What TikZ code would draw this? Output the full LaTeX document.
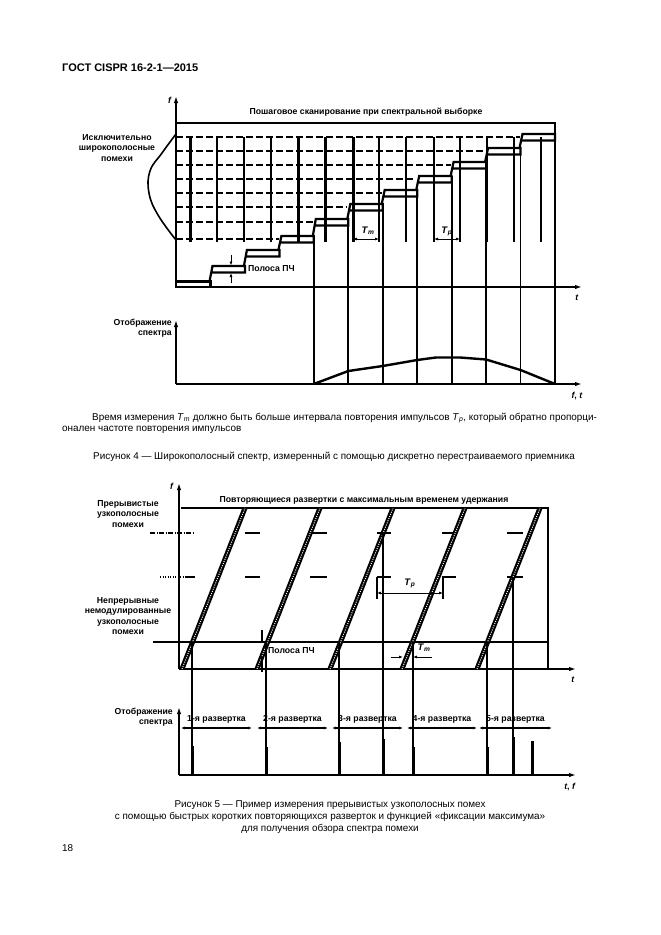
\documentclass[tikz,border=0pt]{standalone}
\usepackage{fontspec}
\setmainfont{Liberation Sans}
\usetikzlibrary{arrows.meta}
\newcommand\figfont{\fontsize{8.7}{10.4}\selectfont\bfseries}
\newcommand\txtfont{\fontsize{9.9}{11.5}\selectfont}
\newcommand\Tm{\textit{T}\textsubscript{\textit{m}}}
\newcommand\Tp{\textit{T}\textsubscript{\textit{p}}}
\begin{document}
\begin{tikzpicture}[x=1pt,y=-1pt,line cap=butt,
  axis/.style={line width=1.7pt,-{Latex[length=7pt,width=4.5pt]}},
  frame/.style={line width=2pt},
  stepbox/.style={line width=2.2pt,line join=miter},
  dline/.style={line width=#1,dash pattern=on 7pt off 3pt},
  bar/.style={line width=#1},
  vline/.style={line width=1.2pt},
  dim/.style={line width=1pt,{Latex[length=4pt,width=3pt]}-{Latex[length=4pt,width=3pt]}},
  lbl/.style={font=\figfont,inner sep=0pt},
  txt/.style={font=\txtfont,inner sep=0pt},
  sweep/.style={line width=5pt},
  sweepdot/.style={line width=1pt,white,dash pattern=on 1pt off 1.3pt},
]
\useasboundingbox[fill=white] (0,0) rectangle (661,935);

% header
\node[anchor=west,inner sep=0pt,font=\fontsize{11}{12}\selectfont\bfseries] (hdr) at (62,68) {ГОСТ CISPR 16-2-1—2015};

%%%%%%%%%%%%%%%% FIGURE 4 (top) %%%%%%%%%%%%%%%%
% pulse bars
\foreach \x/\w in {190/3pt,217/2.2pt,244/2.2pt,271/2.2pt,298/3pt,325/3pt,353/3pt,379/1.4pt,406/2.2pt,434/2.2pt,460/2.2pt,487/2.2pt,514/1.4pt,541/1.4pt}
  \draw[bar=\w] (\x,137) -- (\x,242);
% dashed levels
\foreach \y/\xe/\w in {239/279/2pt,222/313/2pt,207/347/1.3pt,193/382/1.3pt,179/416/1.3pt,165/451/1.3pt,151/485/1.3pt,137/520/2pt}
  \draw[dline=\w] (176,\y) -- (\xe,\y);
% wavy outline of broadband interference
\draw[line width=1.6pt] plot[smooth,tension=0.7] coordinates {(176,134) (162,153) (150,171) (149,193) (158,215) (176,240)};
\node[lbl,align=center] (wb) at (117,148) {Исключительно\\широкополосные\\помехи};

% frame and axes
\draw[frame] (176,123) -- (555,123) -- (555,384);
\draw[axis] (176,287) -- (176,96);
\node[lbl] (f1) at (170,100) {\textit{f}};
\draw[axis] (176,287) -- (582,287);
\node[lbl] (t1) at (577,298) {\textit{t}};
\node[lbl] (title1) at (366,112) {Пошаговое сканирование при спектральной выборке};

% staircase of IF band boxes
\draw[stepbox] (176,281.5) rectangle (210.5,287);
\foreach \xa/\xb/\tp/\tc in {210.5/244.9/281.5/266,244.9/279.4/266/250,279.4/313.8/250/236,313.8/348.3/236/219,348.3/382.7/219/204,382.7/417.2/204/190,417.2/451.6/190/176,451.6/486.1/176/162,486.1/520.5/162/148,520.5/555/148/134}
  \draw[stepbox] (\xa-1,\tp) -- (\xa+2,\tc) -- (\xb,\tc) -- (\xb,\tc+6.5) -- (\xa+0.9,\tc+6.5);
% sample verticals
\foreach \x/\y in {313.8/236,348.3/219,382.7/204,417.2/190,451.6/176,486.1/162,520.5/148}
  \draw[line width=1.9pt] (\x,\y) -- (\x,384);

% IF band marker
\draw[line width=1pt,-{Latex[length=4pt,width=3pt]}] (231,255) -- (231,265.5);
\draw[line width=1pt,-{Latex[length=4pt,width=3pt]}] (231,283) -- (231,273);
\node[lbl,anchor=west] (ifb1) at (248,269) {Полоса ПЧ};

% Tm, Tp
\draw[dim] (353,239) -- (379,239);
\node[lbl,font=\fontsize{9.5}{10}\selectfont\bfseries] (tm1) at (368,231) {\Tm};
\draw[dim] (434,239) -- (460,239);
\node[lbl,font=\fontsize{9.5}{10}\selectfont\bfseries] (tp1) at (447,231) {\Tp};

% lower plot of figure 4
\draw[axis] (176,384) -- (176,320);
\draw[axis] (176,384) -- (582,384);
\node[lbl,align=right,anchor=east] (disp1) at (172,328) {Отображение\\спектра};
\node[lbl] (ft1) at (577,396) {\textit{f}, \textit{t}};
\draw[line width=2.4pt,line join=round] (313.8,384) -- (348.3,371) -- (382.7,366) -- (417.2,360) -- (436,357.5) -- (460,357.5) -- (486.1,359.5) -- (520.5,370) -- (555,384);

% text
\node[txt,anchor=west] (p1) at (92,418) {Время измерения \Tm{} должно быть больше интервала повторения импульсов \Tp, который обратно пропорци-};
\node[txt,anchor=west] (p2) at (62,430) {онален частоте повторения импульсов};
\node[txt] (cap4) at (334,457) {Рисунок 4 — Широкополосный спектр, измеренный с помощью дискретно перестраиваемого приемника};

%%%%%%%%%%%%%%%% FIGURE 5 (bottom) %%%%%%%%%%%%%%%%
\draw[frame] (181,508) -- (548,508) -- (548,669);
\node[lbl] (title2) at (364,500) {Повторяющиеся развертки с максимальным временем удержания};
\draw[axis] (179,669) -- (179,483);
\node[lbl] (f2) at (172,486) {\textit{f}};
\draw[axis] (179,669) -- (576,669);
\node[lbl] (t2) at (573,680) {\textit{t}};

\node[lbl,align=center] (nb1) at (128,514) {Прерывистые\\узкополосные\\помехи};
\node[lbl,align=center] (nb2) at (128,616) {Непрерывные\\немодулированные\\узкополосные\\помехи};

% intermittent interference marks
\draw[line width=1.2pt,dash pattern=on 5pt off 1.5pt on 1pt off 1.5pt] (150,533) -- (195,533);
\draw[line width=1.2pt,dash pattern=on 1pt off 1.5pt] (160,577) -- (185,577);
\draw[line width=1.2pt] (185,577) -- (195,577);
\foreach \y in {533,577}
  \foreach \xa/\xb in {245/260,310/327,377/391,442/456,507/523}
    \draw[line width=2pt] (\xa,\y) -- (\xb,\y);
% continuous interference line
\draw[line width=2.6pt] (153,642) -- (548,642);

% sweeps
\foreach \b in {182,257,330,402,477}{
  \draw[sweep] (\b,669) -- (\b+63,508);
  \draw[sweepdot] (\b,669) -- (\b+63,508);
}

% verticals to the spectrum display
\foreach \x/\y in {192/642,266/642,339/642,413/642,487/642,383/533,513/577}
  \draw[vline] (\x,\y) -- (\x,775);

% Tp bracket
\draw[line width=1.2pt] (377,577) -- (377,599);
\draw[line width=1.2pt] (443,577) -- (443,599);
\draw[dim] (377,593) -- (443,593);
\node[lbl,font=\fontsize{9.5}{10}\selectfont\bfseries] (tp2) at (410,583) {\Tp};

% Tm
\draw[line width=1pt,-{Latex[length=4pt,width=3pt]}] (391,657) -- (403,657);
\draw[line width=1pt,-{Latex[length=4pt,width=3pt]}] (432,657) -- (413,657);
\node[lbl,font=\fontsize{9.5}{10}\selectfont\bfseries] (tm2) at (424,648) {\Tm};

% IF band fig 5
\draw[line width=1.2pt] (262,630) -- (262,642);
\draw[line width=1.2pt] (262,657) -- (262,672);
\node[lbl,anchor=west] (ifb2) at (268,651) {Полоса ПЧ};

% lower plot fig 5
\draw[axis] (179,775) -- (179,707);
\draw[axis] (179,775) -- (576,775);
\node[lbl,align=right,anchor=east] (disp2) at (173,717) {Отображение\\спектра};
\node[lbl] (ft2) at (570,787) {\textit{t}, \textit{f}};
\foreach \xa/\xb/\n in {181/252/1,257/328/2,332/403/3,407/477/4,479/552/5}{
  \draw[dim,line width=1.2pt] (\xa,728) -- (\xb,728);
  \node[lbl] at ({(\xa+\xb)/2},719) {\n-я развертка};
}
\foreach \x/\y in {192/746,266/747,339/742,383/739,413/747,487/747,513/737,532/741}
  \draw[line width=3pt] (\x+0.8,\y) -- (\x+0.8,775);

% caption fig 5
\node[txt] (c5a) at (330,805) {Рисунок 5 — Пример измерения прерывистых узкополосных помех};
\node[txt] (c5b) at (330,817) {с помощью быстрых коротких повторяющихся разверток и функцией «фиксации максимума»};
\node[txt] (c5c) at (330,829) {для получения обзора спектра помехи};
\node[txt,anchor=west] (pg) at (62,848) {18};
\end{tikzpicture}
\end{document}
